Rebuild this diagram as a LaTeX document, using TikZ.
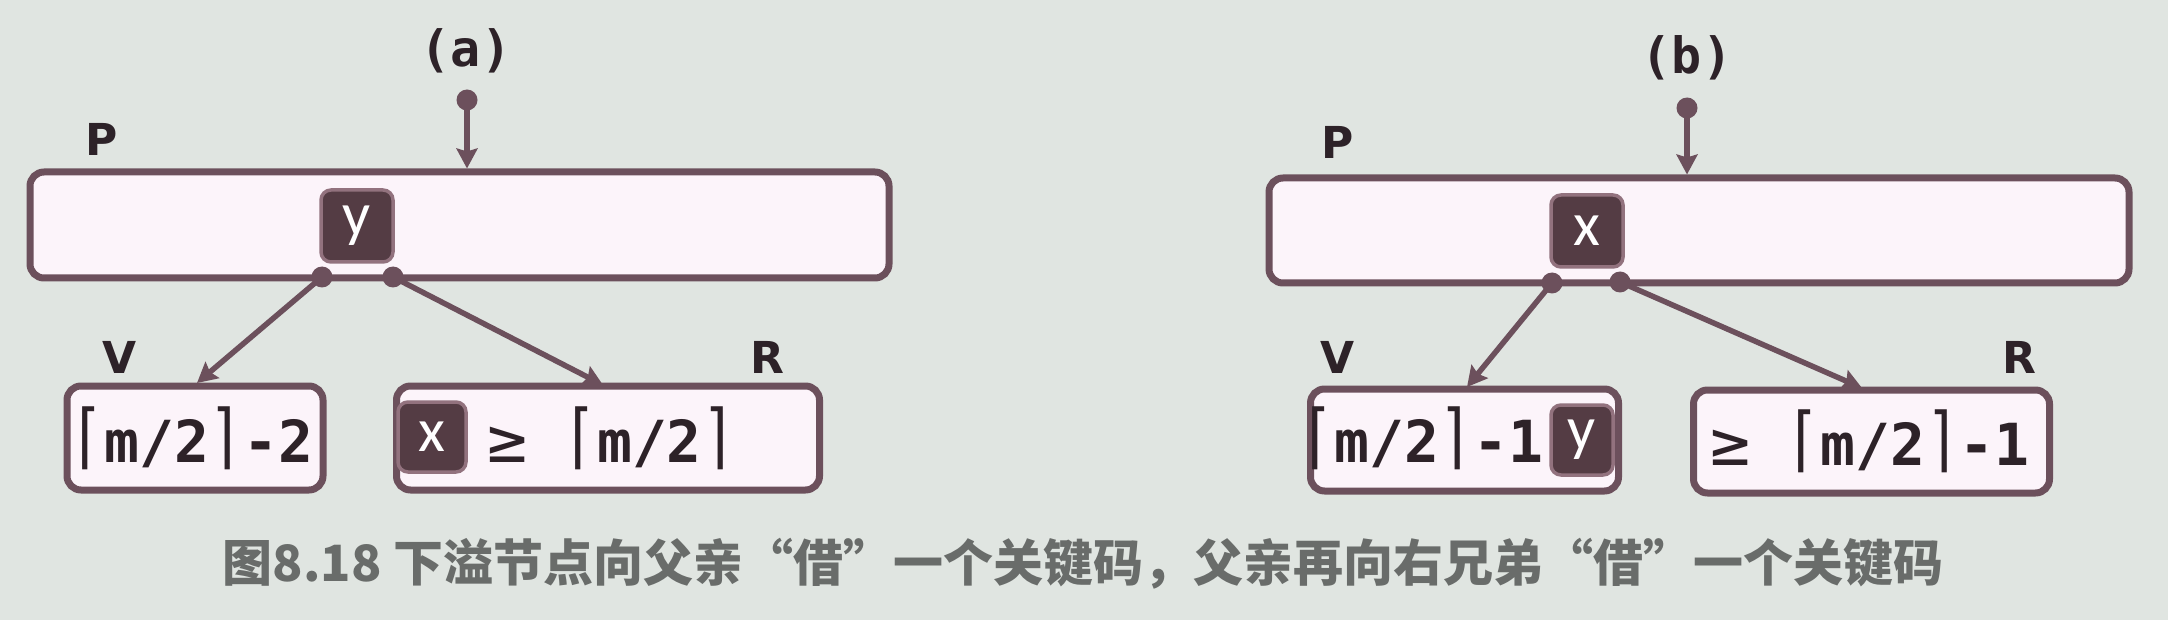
\documentclass[tikz,border=0pt]{standalone}
\usepackage{graphicx}
\usepackage{fontspec}
\setmainfont{Carlito}
\newfontfamily\cjkfont{Noto Sans CJK SC}
\newfontfamily\mono{DejaVu Sans Mono}
\newfontfamily\lblf{DejaVu Sans}
\usetikzlibrary{arrows.meta}
\definecolor{bg}{RGB}{224,229,225}
\definecolor{boxfill}{RGB}{252,244,250}
\definecolor{border}{RGB}{108,80,92}
\definecolor{keyfill}{RGB}{84,60,68}
\definecolor{keyedge}{RGB}{146,114,126}
\definecolor{ink}{RGB}{45,34,40}
\definecolor{capgrey}{RGB}{105,108,106}
\newcommand{\lc}{\raisebox{2pt}{\scalebox{1}[1.22]{\mdseries ⌈}}}
\newcommand{\rc}{\raisebox{2pt}{\scalebox{1}[1.22]{\mdseries ⌉}}}
\newcommand{\gsym}{\scalebox{1.15}{\mdseries ≥}}
\begin{document}
\begin{tikzpicture}[x=1pt,y=-1pt,
  nodebox/.style={draw=border, fill=boxfill, line width=7pt, rounded corners=14pt, inner sep=0pt},
  keybox/.style={draw=keyedge, fill=keyfill, line width=3.5pt, rounded corners=10pt, minimum width=72pt, minimum height=72pt, inner sep=0pt, text=white, font=\fontsize{62}{62}\selectfont},
  lbl/.style={font=\lblf\bfseries\fontsize{44}{44}\selectfont, text=ink},
  ttl/.style={font=\mono\bfseries\fontsize{50}{50}\selectfont, text=ink},
  txt/.style={font=\mono\bfseries\fontsize{58}{58}\selectfont, text=ink, inner sep=0pt, anchor=base},
  link/.style={draw=border, line width=5.5pt, -{Stealth[length=20pt,width=21pt,inset=3pt]}},
  dot/.style={circle, fill=border, inner sep=0pt, minimum size=21pt}]
\fill[bg] (0,0) rectangle (2168,620);
\useasboundingbox (0,0) rectangle (2168,620);

% ---------- (a) ----------
\node[ttl] (atitle) at (466,51) {(a)};
\node[dot] (atop) at (467,100) {};
\node[nodebox, minimum width=859pt, minimum height=106pt] (aP) at (459.5,225) {};
\node[lbl] (aPl) at (102,139) {P};
\node[keybox] (ay) at (357,226) {y};
\node[dot] (ad1) at (322,277) {};
\node[dot] (ad2) at (393,277) {};
\node[nodebox, minimum width=256pt, minimum height=104pt] (aV) at (195,438) {};
\node[nodebox, minimum width=423pt, minimum height=104pt] (aR) at (608,438) {};
\node[txt] (aVt) at (191.5,462) {\lc m/2\rc-2};
\node[keybox, minimum width=68pt, minimum height=70pt] (ax) at (432,437) {x};
\node[txt] (aRt) at (612,462) {\gsym\ \lc m/2\rc};
\node[lbl] (aVl) at (120,357) {V};
\node[lbl] (aRl) at (767,357) {R};
\coordinate (aVin) at (197,383);
\coordinate (aRin) at (603,385);
\draw[link] (atop.center) -- (aP.north -| atop);
\draw[link] (ad1.center) -- (aVin);
\draw[link] (ad2.center) -- (aRin);

% ---------- (b) ----------
\node[ttl] (btitle) at (1687,58) {(b)};
\node[dot] (btop) at (1687,108) {};
\node[nodebox, minimum width=860pt, minimum height=105pt] (bP) at (1699,230.5) {};
\node[lbl] (bPl) at (1338,142) {P};
\node[keybox] (bx) at (1587,231) {x};
\node[dot] (bd1) at (1552,283) {};
\node[dot] (bd2) at (1620,282) {};
\node[nodebox, minimum width=308pt, minimum height=102pt] (bV) at (1464.5,440) {};
\node[nodebox, minimum width=356pt, minimum height=103pt] (bR) at (1871.5,441.5) {};
\node[txt] (bVt) at (1421.5,462) {\lc m/2\rc-1};
\node[keybox, minimum width=62pt, minimum height=70pt] (by) at (1582,440) {y};
\node[txt] (bRt) at (1870,465) {\gsym\ \lc m/2\rc-1};
\node[lbl] (bVl) at (1338,357) {V};
\node[lbl] (bRl) at (2019,357) {R};
\coordinate (bVin) at (1467,387);
\coordinate (bRin) at (1862,388);
\draw[link] (btop.center) -- (bP.north -| btop);
\draw[link] (bd1.center) -- (bVin);
\draw[link] (bd2.center) -- (bRin);

% ---------- caption ----------
\node[font=\cjkfont\bfseries\fontsize{50}{50}\selectfont, text=capgrey] (cap) at (1083,564)
  {图8.18 下溢节点向父亲“借”一个关键码，父亲再向右兄弟“借”一个关键码};
\end{tikzpicture}
\end{document}
